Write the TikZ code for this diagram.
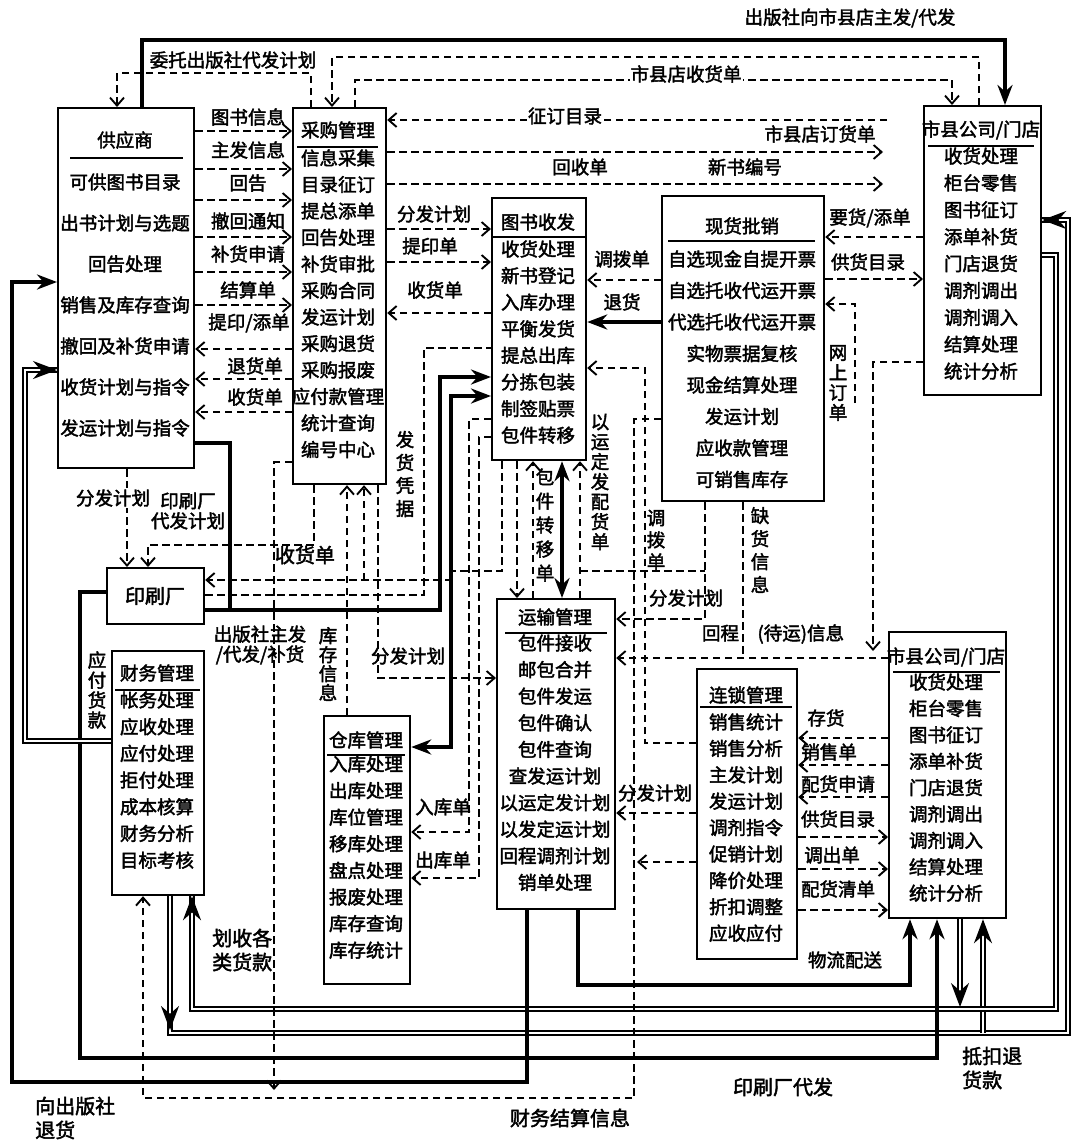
\documentclass[tikz,border=0pt]{standalone}
\usepackage{fontspec}
\setmainfont{Noto Sans CJK SC}[AutoFakeBold=2.2]
\usetikzlibrary{arrows.meta}
\newcommand\fs{\fontsize{18.5}{20}\selectfont\bfseries}
\newcommand\fb{\fontsize{20}{24}\selectfont\bfseries}
\begin{document}
\begin{tikzpicture}[x=1pt,y=-1pt,
 box/.style={draw, line width=2.2pt, inner sep=0pt, anchor=north west},
 it/.style={font=\fs, inner sep=0pt},
 lb/.style={font=\fs, inner sep=1pt},
 vt/.style={font=\fontsize{18.5}{#1}\selectfont\bfseries, align=center, inner sep=0pt},
 vt/.default=22,
 dl/.style={line width=1.9pt, dash pattern=on 7.5pt off 4.5pt},
 da/.style={dl, -{Straight Barb[length=8pt,width=14pt]}},
 sl/.style={line width=3.4pt},
 sa/.style={sl, -{Stealth[length=20pt,width=15pt]}},
 db/.style={double, line width=1.7pt, double distance=2.6pt},
 dba/.style={db, -{Stealth[length=24pt,width=18pt]}},
 tl/.style={line width=2pt}]
\path[fill=white,use as bounding box] (0,0) rectangle (1072,1141);

% ---------------- boxes ----------------
\node[box, minimum width=136pt, minimum height=360pt] (gys) at (57,107) {};
\node[box, minimum width=93pt, minimum height=376pt] (cg) at (292,107) {};
\node[box, minimum width=94pt, minimum height=262pt] (ts) at (491,197) {};
\node[box, minimum width=162pt, minimum height=305pt] (xh) at (661,195) {};
\node[box, minimum width=117pt, minimum height=289pt] (sx1) at (923,105) {};
\node[box, minimum width=97pt, minimum height=56pt] (ysc) at (106,567) {};
\node[box, minimum width=92pt, minimum height=244pt] (cw) at (111,650) {};
\node[box, minimum width=86pt, minimum height=268pt] (ck) at (323,715) {};
\node[box, minimum width=118pt, minimum height=310pt] (ys) at (496,598) {};
\node[box, minimum width=100pt, minimum height=290pt] (ls) at (696,668) {};
\node[box, minimum width=117pt, minimum height=286pt] (sx2) at (888,631) {};

% titles and items
\node[it] (gys-t) at (125,140) {供应商};
\draw[tl] (70,158) -- (183,158);
\foreach \t [count=\i from 0] in {可供图书目录,出书计划与选题,回告处理,销售及库存查询,撤回及补货申请,收货计划与指令,发运计划与指令}
  \node[it] (gys-\i) at (125,{182+41*\i}) {\t};

\node[it] (cg-t) at (338,130) {采购管理};
\draw[tl] (297,147) -- (378,147);
\foreach \t [count=\i from 0] in {信息采集,目录征订,提总添单,回告处理,补货审批,采购合同,发运计划,采购退货,采购报废,应付款管理,统计查询,编号中心}
  \node[it] (cg-\i) at (338,{158+26.5*\i}) {\t};

\node[it] (ts-t) at (538,222) {图书收发};
\draw[tl] (491,237) -- (585,237);
\foreach \t [count=\i from 0] in {收货处理,新书登记,入库办理,平衡发货,提总出库,分拣包装,制签贴票,包件转移}
  \node[it] (ts-\i) at (538,{249+26.6*\i}) {\t};

\node[it] (xh-t) at (742,226) {现货批销};
\draw[tl] (668,241) -- (815,241);
\foreach \t [count=\i from 0] in {自选现金自提开票,自选托收代运开票,代选托收代运开票,实物票据复核,现金结算处理,发运计划,应收款管理,可销售库存}
  \node[it] (xh-\i) at (742,{259+31.5*\i}) {\t};

\node[it] (sx1-t) at (981,130) {市县公司/门店};
\draw[tl] (928,146) -- (1034,146);
\foreach \t [count=\i from 0] in {收货处理,柜台零售,图书征订,添单补货,门店退货,调剂调出,调剂调入,结算处理,统计分析}
  \node[it] (sx1-\i) at (981,{156+26.9*\i}) {\t};

\node[it, font=\fb] (ysc-t) at (155,596) {印刷厂};

\node[it] (cw-t) at (157,673) {财务管理};
\draw[tl] (115,690) -- (200,690);
\foreach \t [count=\i from 0] in {帐务处理,应收处理,应付处理,拒付处理,成本核算,财务分析,目标考核}
  \node[it] (cw-\i) at (157,{700+26.7*\i}) {\t};

\node[it] (ck-t) at (366,740) {仓库管理};
\draw[tl] (327,755) -- (405,755);
\foreach \t [count=\i from 0] in {入库处理,出库处理,库位管理,移库处理,盘点处理,报废处理,库存查询,库存统计}
  \node[it] (ck-\i) at (366,{764+26.6*\i}) {\t};

\node[it] (ys-t) at (555,617) {运输管理};
\draw[tl] (505,633) -- (607,633);
\foreach \t [count=\i from 0] in {包件接收,邮包合并,包件发运,包件确认,包件查询,查发运计划,以运定发计划,以发定运计划,回程调剂计划,销单处理}
  \node[it] (ys-\i) at (555,{643+26.6*\i}) {\t};

\node[it] (ls-t) at (746,695) {连锁管理};
\draw[tl] (700,707) -- (792,707);
\foreach \t [count=\i from 0] in {销售统计,销售分析,主发计划,发运计划,调剂指令,促销计划,降价处理,折扣调整,应收应付}
  \node[it] (ls-\i) at (746,{722+26.4*\i}) {\t};

\node[it] (sx2-t) at (946,657) {市县公司/门店};
\draw[tl] (893,672) -- (1000,672);
\foreach \t [count=\i from 0] in {收货处理,柜台零售,图书征订,添单补货,门店退货,调剂调出,调剂调入,结算处理,统计分析}
  \node[it] (sx2-\i) at (946,{682+26.4*\i}) {\t};

% ---------------- top connectors ----------------
\node[lb] (l-top) at (850,18) {出版社向市县店主发/代发};
\draw[sa] (gys.north -| 142,0) -- (142,40) -- (1005,40) -- (sx1.north -| 1005,0);
\node[lb] (l-wt) at (233,60) {委托出版社代发计划};
\draw[da] (cg.north -| 311,0) -- (311,73) -- (117,73) -- (gys.north -| 117,0);
\draw[da] (sx1.north -| 979,0) -- (979,57) -- (332,57) -- (cg.north -| 332,0);
\draw[da] (cg.north -| 355,0) -- (355,80) -- (952,80) -- (sx1.north -| 952,0);
\node[lb, fill=white] (l-sxs) at (686,74) {市县店收货单};
\coordinate (zd-end) at (887,120);
\draw[da] (zd-end) -- (cg.east |- 0,120);
\node[lb, fill=white] (l-zd) at (565,116) {征订目录};
\coordinate (dh-end) at (883,152);
\draw[da] (cg.east |- 0,152) -- (dh-end);
\node[lb] (l-dh) at (820,134) {市县店订货单};
\coordinate (bh-end) at (883,184);
\draw[da] (cg.east |- 0,184) -- (bh-end);
\node[lb] (l-hs) at (580,167) {回收单};
\node[lb] (l-bh) at (745,167) {新书编号};

% ---------------- supplier <-> purchasing ----------------
\foreach \y/\t/\ly in {131/图书信息/117, 169/主发信息/150, 200/回告/183, 237/撤回通知/221, 272/补货申请/254, 305/结算单/290}{
  \draw[da] (gys.east |- 0,\y) -- (cg.west |- 0,\y);
  \node[lb] (l-g\y) at (248,\ly) {\t};}
\draw[da] (cg.west |- 0,349) -- (gys.east |- 0,349);
\node[lb] (l-ty) at (249,323) {提印/添单};
\draw[da] (cg.west |- 0,379) -- (gys.east |- 0,379);
\node[lb] (l-thd) at (255,366) {退货单};
\draw[da] (cg.west |- 0,412) -- (gys.east |- 0,412);
\node[lb] (l-shd) at (255,397) {收货单};

% purchasing <-> book receiving
\draw[da] (cg.east |- 0,229) -- (ts.west |- 0,229);
\node[lb] (l-ff1) at (434,214) {分发计划};
\draw[da] (cg.east |- 0,262) -- (ts.west |- 0,262);
\node[lb] (l-tyd) at (430,246) {提印单};
\draw[da] (ts.west |- 0,313) -- (cg.east |- 0,313);
\node[lb] (l-shd2) at (435,290) {收货单};

% spot sales -> book receiving
\draw[da] (xh.west |- 0,280) -- (ts.east |- 0,280);
\node[lb] (l-dbd) at (622,259) {调拨单};
\draw[sa] (xh.west |- 0,322) -- (ts.east |- 0,322);
\node[lb] (l-th) at (622,302) {退货};

% stores (top) <-> spot sales
\draw[da] (sx1.west |- 0,237) -- (xh.east |- 0,237);
\node[lb] (l-yh) at (870,218) {要货/添单};
\draw[da] (xh.east |- 0,279) -- (sx1.west |- 0,279);
\node[lb] (l-ghml) at (868,262) {供货目录};
\coordinate (ws-start) at (855,403);
\draw[da] (ws-start) -- (855,304) -- (xh.east |- 0,304);
\node[vt=20] (l-ws) at (838,383) {网\\上\\订\\单};
\draw[da] (sx1.west |- 0,362) -- (873,362) -- (873,651);

% ---------------- right side double lines ----------------
\draw[db] (cw.south -| 170,0) -- (170,1033) -- (1068,1033) -- (1068,220) -- (sx1.east |- 0,220);
\draw[dba] (cw.south -| 170,0) -- (170,1030);
\draw[dba] (1060,220) -- (sx1.east |- 0,220);
\draw[dba] (983,1033) -- (sx2.south -| 983,0);
\draw[db] (sx1.east |- 0,255) -- (1056,255) -- (1056,1009) -- (192,1009) -- (cw.south -| 192,0);
\draw[dba] (192,1000) -- (cw.south -| 192,0);
\draw[dba] (sx2.south -| 960,0) -- (960,1007);
\node[font=\fb, align=left, anchor=west, inner sep=0pt] (l-dk) at (962,1068) {抵扣退\\货款};
\node[font=\fb, align=left, anchor=west, inner sep=0pt] (l-hs2) at (212,950) {划收各\\类货款};

% ---------------- bottom solid lines ----------------
\draw[sa] (ysc.west |- 0,592) -- (80,592) -- (80,1058) -- (937,1058) -- (sx2.south -| 937,0);
\node[font=\fb, inner sep=0pt] (l-ycdf) at (783,1087) {印刷厂代发};
\draw[sa] (ys.south -| 578,0) -- (578,985) -- (910,985) -- (sx2.south -| 910,0);
\node[lb] (l-wl) at (845,960) {物流配送};
\draw[sa] (ys.south -| 527,0) -- (527,1082) -- (12,1082) -- (12,282) -- (gys.west |- 0,282);
\node[font=\fb, align=left, anchor=west, inner sep=0pt] (l-xth) at (35,1118) {向出版社\\退货};
\draw[db] (cw.west |- 0,741) -- (25,741) -- (25,370) -- (gys.west |- 0,370);
\draw[dba] (40,370) -- (gys.west |- 0,370);
\node[vt=20] (l-yf) at (97,690) {应\\付\\货\\款};

% supplier / printer -> book receiving, warehouse
\draw[sl] (gys.east |- 0,443) -- (230,443) -- (230,610);
\draw[sa] (ysc.east |- 0,610) -- (440,610) -- (440,377) -- (ts.west |- 0,377);
\draw[sl, {Stealth[length=20pt,width=15pt]}-{Stealth[length=20pt,width=15pt]}] (ts.west |- 0,396) -- (451,396) -- (451,747) -- (ck.east |- 0,747);
\node[lb, align=center] (l-cbs) at (260,645) {出版社主发\\/代发/补货};

% supplier / purchasing -> printer
\draw[da] (gys.south -| 127,0) -- (ysc.north -| 127,0);
\node[lb, fill=white] (l-ff2) at (113,498) {分发计划};
\draw[da] (cg.south -| 314,0) -- (314,545) -- (148,545) -- (ysc.north -| 148,0);
\node[lb, align=center] (l-ycj) at (188,511) {印刷厂\\代发计划};

% receipts to printer / purchasing
\draw[da] (ts.south -| 502,0) -- (502,571) -- (452,571) -- (452,580) -- (ysc.east |- 0,580);
\draw[da] (364,580) -- (cg.south -| 364,0);
\node[font=\fb, inner sep=1pt] (l-shd3) at (305,555) {收货单};
\draw[dl] (ysc.east |- 0,595) -- (424,595) -- (424,348) -- (ts.west |- 0,348);
\node[vt=23] (l-fhpj) at (405,474) {发\\货\\凭\\据};

% purchasing bottom
\draw[da] (cg.west |- 0,462) -- (274,462) -- (274,1090);
\draw[da] (ck.north -| 347,0) -- (cg.south -| 347,0);
\node[vt=19] (l-kcxx) at (328,664) {库\\存\\信\\息};
\draw[da] (cg.south -| 378,0) -- (378,678) -- (ys.west |- 0,678);
\node[lb] (l-ff3) at (408,656) {分发计划};

% finance settlement info
\draw[da] (xh.west |- 0,419) -- (634,419) -- (634,1098) -- (143,1098) -- (cw.south -| 143,0);
\node[font=\fb, inner sep=0pt] (l-cwjs) at (570,1118) {财务结算信息};
\draw[da] (ls.west |- 0,862) -- (637,862);

% book receiving <-> transport
\draw[da] (ts.south -| 517,0) -- (ys.north -| 517,0);
\draw[da] (ys.north -| 533,0) -- (ts.south -| 533,0);
\draw[sl, {Stealth[length=20pt,width=15pt]}-{Stealth[length=20pt,width=15pt]}] (ts.south -| 562,0) -- (ys.north -| 562,0);
\node[vt=24] (l-bjzy) at (545,525) {包\\件\\转\\移\\单};
\draw[da] (ys.north -| 580,0) -- (ts.south -| 580,0);
\node[vt=20] (l-yyd) at (600,482) {以\\运\\定\\发\\配\\货\\单};

% warehouse in/out
\draw[da] (ts.west |- 0,419) -- (469,419) -- (469,832) -- (ck.east |- 0,832);
\node[lb] (l-rkd) at (443,807) {入库单};
\draw[da] (ts.west |- 0,437) -- (479,437) -- (479,878) -- (ck.east |- 0,878);
\node[lb] (l-ckd) at (443,860) {出库单};

% chain / spot sales -> transport, receiving
\draw[da] (ls.west |- 0,743) -- (645,743) -- (645,368) -- (ts.east |- 0,368);
\node[vt=22] (l-dbd2) at (656,540) {调\\拨\\单};
\draw[dl] (580,571) -- (705,571);
\draw[da] (xh.south -| 705,0) -- (705,619) -- (ys.east |- 0,619);
\node[lb] (l-ff4) at (686,598) {分发计划};
\draw[dl] (xh.south -| 743,0) -- (743,658);
\node[vt=23] (l-qhxx) at (760,550) {缺\\货\\信\\息};
\draw[da] (sx2.west |- 0,658) -- (ys.east |- 0,658);
\node[lb] (l-hc) at (773,634) {回程\quad(待运)信息};
\draw[da] (ls.west |- 0,813) -- (ys.east |- 0,813);
\node[lb] (l-ff5) at (655,793) {分发计划};

% chain <-> stores (bottom)
\draw[da] (sx2.west |- 0,738) -- (ls.east |- 0,738);
\node[lb] (l-ch) at (826,718) {存货};
\draw[da] (sx2.west |- 0,765) -- (ls.east |- 0,765);
\node[lb] (l-xsd) at (829,752) {销售单};
\draw[da] (sx2.west |- 0,797) -- (ls.east |- 0,797);
\node[lb] (l-phsq) at (838,784) {配货申请};
\draw[da] (ls.east |- 0,837) -- (sx2.west |- 0,837);
\node[lb] (l-ghml2) at (838,819) {供货目录};
\draw[da] (ls.east |- 0,869) -- (sx2.west |- 0,869);
\node[lb] (l-dcd) at (832,855) {调出单};
\draw[da] (ls.east |- 0,910) -- (sx2.west |- 0,910);
\node[lb] (l-phqd) at (838,889) {配货清单};
\end{tikzpicture}
\end{document}
